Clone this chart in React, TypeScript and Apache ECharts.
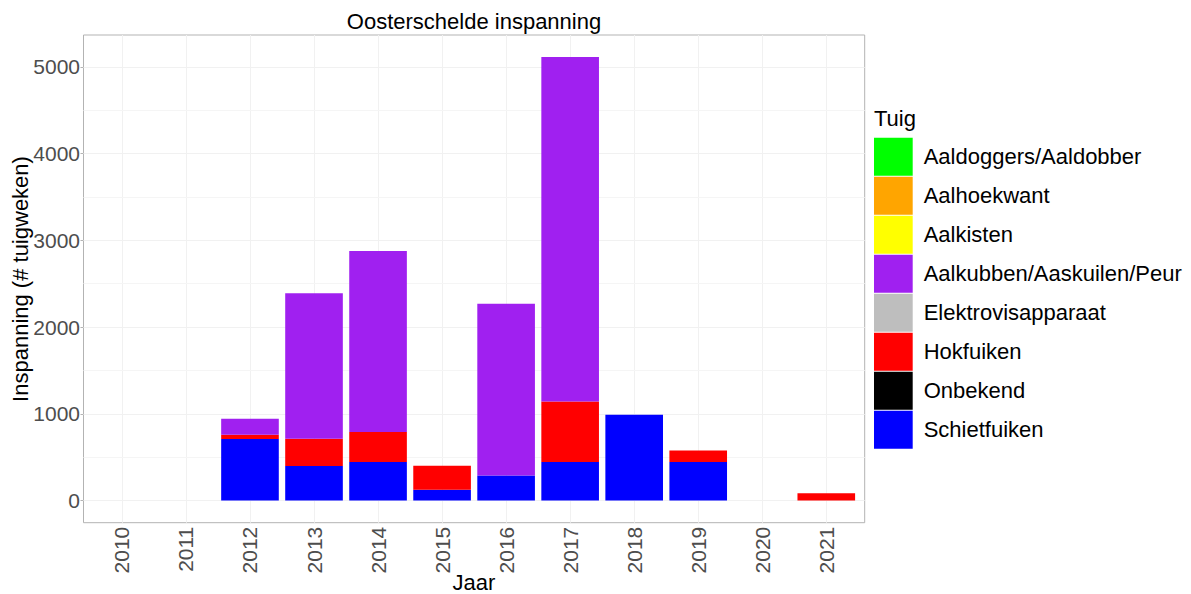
import React, { useEffect, useRef } from "react";
import * as echarts from "echarts";

const years = ["2010", "2011", "2012", "2013", "2014", "2015", "2016", "2017", "2018", "2019", "2020", "2021"];

// values in # tuigweken per gear
const schietfuiken = [0, 0, 708, 397, 443, 123, 288, 443, 988, 443, 0, 0];
const onbekend = [0, 0, 0, 0, 0, 0, 0, 0, 0, 0, 0, 0];
const hokfuiken = [0, 0, 50, 315, 346, 277, 0, 699, 0, 134, 0, 85];
const elektrovisapparaat = [0, 0, 0, 0, 0, 0, 0, 0, 0, 0, 0, 0];
const aalkubben = [0, 0, 184, 1679, 2088, 0, 1981, 3972, 0, 0, 0, 0];
const aalkisten = [0, 0, 0, 0, 0, 0, 0, 0, 0, 0, 0, 0];
const aalhoekwant = [0, 0, 0, 0, 0, 0, 0, 0, 0, 0, 0, 0];
const aaldoggers = [0, 0, 0, 0, 0, 0, 0, 0, 0, 0, 0, 0];

const legendOrder = [
  "Aaldoggers/Aaldobber",
  "Aalhoekwant",
  "Aalkisten",
  "Aalkubben/Aaskuilen/Peur",
  "Elektrovisapparaat",
  "Hokfuiken",
  "Onbekend",
  "Schietfuiken",
];

const yTicks = [0, 1000, 2000, 3000, 4000, 5000];
const yMinor = [500, 1500, 2500, 3500, 4500];

const FONT = "'Liberation Sans', Arial, Helvetica, sans-serif";

export default function App() {
  const ref = useRef<HTMLDivElement>(null);

  useEffect(() => {
    if (!ref.current) return;
    const chart = echarts.init(ref.current, null, { renderer: "svg" });

    const stackSeries = [
      { name: "Schietfuiken", data: schietfuiken, color: "#0000FF" },
      { name: "Onbekend", data: onbekend, color: "#000000" },
      { name: "Hokfuiken", data: hokfuiken, color: "#FF0000" },
      { name: "Elektrovisapparaat", data: elektrovisapparaat, color: "#BEBEBE" },
      { name: "Aalkubben/Aaskuilen/Peur", data: aalkubben, color: "#A020F0" },
      { name: "Aalkisten", data: aalkisten, color: "#FFFF00" },
      { name: "Aalhoekwant", data: aalhoekwant, color: "#FFA500" },
      { name: "Aaldoggers/Aaldobber", data: aaldoggers, color: "#00FF00" },
    ];

    const panelLeft = 83.5;
    const panelTop = 35;
    const panelW = 781.2;
    const panelH = 487.7;
    const band = panelW / 12.2;
    const yMin = -256;
    const yMax = 5368;

    const series: any[] = stackSeries.map((s, i) => ({
      type: "bar",
      name: s.name,
      stack: "tuig",
      xAxisIndex: 1,
      yAxisIndex: 1,
      barWidth: "90%",
      itemStyle: { color: s.color },
      data: s.data,
      z: 2,
      ...(i === 0
        ? {
            markLine: {
              silent: true,
              symbol: ["none", "none"],
              z: 1,
              label: { show: false },
              lineStyle: { color: "#f1f1f1", width: 1, type: "solid" },
              data: years.map((y) => ({ xAxis: y })),
            },
          }
        : {}),
    }));

    series.push({
      type: "line",
      name: "grid",
      xAxisIndex: 0,
      yAxisIndex: 0,
      data: [],
      silent: true,
      markLine: {
        silent: true,
        symbol: ["none", "none"],
        z: 1,
        label: { show: false },
        data: [
          ...yMinor.map((v) => ({ yAxis: v, lineStyle: { color: "#f5f5f5", width: 1, type: "solid" } })),
          ...yTicks.map((v) => ({ yAxis: v, lineStyle: { color: "#f1f1f1", width: 1, type: "solid" } })),
        ],
      },
    });

    const option: any = {
      animation: false,
      backgroundColor: "#ffffff",
      textStyle: { fontFamily: FONT },
      grid: [
        {
          left: panelLeft,
          top: panelTop,
          width: panelW,
          height: panelH,
          show: true,
          backgroundColor: "#ffffff",
          borderColor: "#b3b3b3",
          borderWidth: 1,
          z: 0,
        },
        {
          left: panelLeft + 0.1 * band,
          top: panelTop,
          width: 12 * band,
          height: panelH,
        },
      ],
      xAxis: [
        { type: "value", gridIndex: 0, min: 0, max: 1, show: false },
        {
          type: "category",
          gridIndex: 1,
          data: years,
          boundaryGap: true,
          axisLine: { show: false },
          axisTick: { show: true, alignWithLabel: true, length: 3, lineStyle: { color: "#b3b3b3" } },
          splitLine: { show: false },
          axisLabel: {
            rotate: 90,
            margin: 4,
            fontSize: 21,
            color: "#4d4d4d",
            fontFamily: FONT,
            interval: 0,
          },
        },
      ],
      yAxis: [
        {
          type: "value",
          gridIndex: 0,
          min: yMin,
          max: yMax,
          axisLine: { show: false },
          splitLine: { show: false },
          axisTick: { show: true, length: 3, customValues: yTicks, lineStyle: { color: "#b3b3b3" } },
          axisLabel: {
            customValues: yTicks,
            margin: 3.5,
            fontSize: 21,
            color: "#4d4d4d",
            fontFamily: FONT,
            formatter: (v: number) => String(v),
          },
        },
        {
          type: "value",
          gridIndex: 1,
          min: yMin,
          max: yMax,
          show: false,
        },
      ],
      legend: {
        orient: "vertical",
        left: 874,
        top: 137.7,
        padding: 0,
        itemWidth: 38.7,
        itemHeight: 38,
        itemGap: 1,
        icon: "rect",
        selectedMode: false,
        data: legendOrder,
        textStyle: { fontSize: 22, color: "#000000", fontFamily: FONT, padding: [0, 0, 0, 6] },
      },
      graphic: [
        {
          type: "text",
          x: 474,
          y: 21.5,
          style: {
            text: "Oosterschelde inspanning",
            align: "center",
            verticalAlign: "middle",
            fontSize: 22,
            fontFamily: FONT,
            fill: "#000000",
          },
        },
        {
          type: "text",
          x: 20,
          y: 279,
          rotation: Math.PI / 2,
          style: {
            text: "Inspanning (# tuigweken)",
            align: "center",
            verticalAlign: "middle",
            fontSize: 22,
            fontFamily: FONT,
            fill: "#000000",
          },
        },
        {
          type: "text",
          x: 474,
          y: 582,
          style: {
            text: "Jaar",
            align: "center",
            verticalAlign: "middle",
            fontSize: 22,
            fontFamily: FONT,
            fill: "#000000",
          },
        },
        {
          type: "text",
          x: 874,
          y: 118.3,
          style: {
            text: "Tuig",
            align: "left",
            verticalAlign: "middle",
            fontSize: 22,
            fontFamily: FONT,
            fill: "#000000",
          },
        },
      ],
      series,
    };

    chart.setOption(option);
    return () => chart.dispose();
  }, []);

  return (
    <div
      ref={ref}
      style={{ position: "fixed", left: 0, top: 0, width: 1191, height: 594, background: "#ffffff" }}
    />
  );
}
